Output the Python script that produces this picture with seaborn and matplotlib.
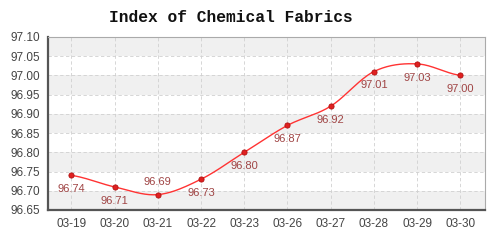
import numpy as np
import pandas as pd
import matplotlib
matplotlib.use("Agg")
import matplotlib.pyplot as plt
import seaborn as sns

dates = ["03-19", "03-20", "03-21", "03-22", "03-23", "03-26", "03-27", "03-28", "03-29", "03-30"]
values = [96.74, 96.71, 96.69, 96.73, 96.80, 96.87, 96.92, 97.01, 97.03, 97.00]
label_above = [False, False, True, False, False, False, False, False, False, False]
title = "Index of Chemical Fabrics"
yticks = [96.65, 96.70, 96.75, 96.80, 96.85, 96.90, 96.95, 97.00, 97.05, 97.10]

sns.set_style("white")
plt.rcParams['font.family'] = ['Liberation Sans', 'DejaVu Sans']

df = pd.DataFrame({"x": np.arange(len(dates)), "y": values})

fig = plt.figure(figsize=(5, 2.4), dpi=100)
ax = fig.add_axes([0.096, 0.125, 0.874, 0.721])

# alternating bands
for i in range(len(yticks) - 1):
    if (len(yticks) - 2 - i) % 2 == 0:
        ax.axhspan(yticks[i], yticks[i + 1], color="#f0f0f0", zorder=0, lw=0)

# smooth line (Catmull-Rom through data points)
x = df["x"].to_numpy(float)
y = df["y"].to_numpy(float)
xs, ys = [], []
n = len(x)
for i in range(n - 1):
    p0 = y[i - 1] if i > 0 else y[i]
    p1, p2 = y[i], y[i + 1]
    p3 = y[i + 2] if i + 2 < n else y[i + 1]
    t = np.linspace(0, 1, 20, endpoint=(i == n - 2))
    seg = 0.5 * ((2 * p1) + (-p0 + p2) * t + (2 * p0 - 5 * p1 + 4 * p2 - p3) * t**2 + (-p0 + 3 * p1 - 3 * p2 + p3) * t**3)
    xs.extend(x[i] + t)
    ys.extend(seg)
ax.plot(xs, ys, color="#ff3333", lw=1.0, zorder=3)
sns.scatterplot(data=df, x="x", y="y", ax=ax, color="#e02020", edgecolor="#b01010",
                s=14, linewidth=0.6, zorder=4, legend=False)

for xi, yi, up in zip(x, y, label_above):
    off = 9 if up else -10
    ax.annotate(f"{yi:.2f}", (xi, yi), xytext=(0, off), textcoords="offset points",
                ha="center", va="center", fontsize=8, color="#a04545", zorder=5)

ax.set_xlim(-0.54, 9.57)
ax.set_ylim(96.65, 97.10)
ax.set_xticks(x)
ax.set_xticklabels(dates)
ax.set_yticks(yticks)
ax.set_yticklabels([f"{v:.2f}" for v in yticks])
ax.set_xlabel("")
ax.set_ylabel("")
ax.grid(True, color="#d0d0d0", ls=(0, (4, 3)), lw=0.6, zorder=1)
ax.set_axisbelow(True)
ax.tick_params(axis="both", labelsize=8.5, colors="#444444", length=3, width=1, direction="out", pad=3)
ax.tick_params(axis="both", labelcolor="#444444")
for s in ["left", "bottom"]:
    ax.spines[s].set_color("#555555")
    ax.spines[s].set_linewidth(1.6)
for s in ["top", "right"]:
    ax.spines[s].set_color("#aaaaaa")
    ax.spines[s].set_linewidth(0.8)

fig.text(231 / 500, 1 - 18 / 240, title, ha="center", va="center", fontsize=11.7,
         family=["Liberation Mono", "DejaVu Sans Mono"], weight="bold", color="#111111")

fig.savefig("out.png", dpi=100)
